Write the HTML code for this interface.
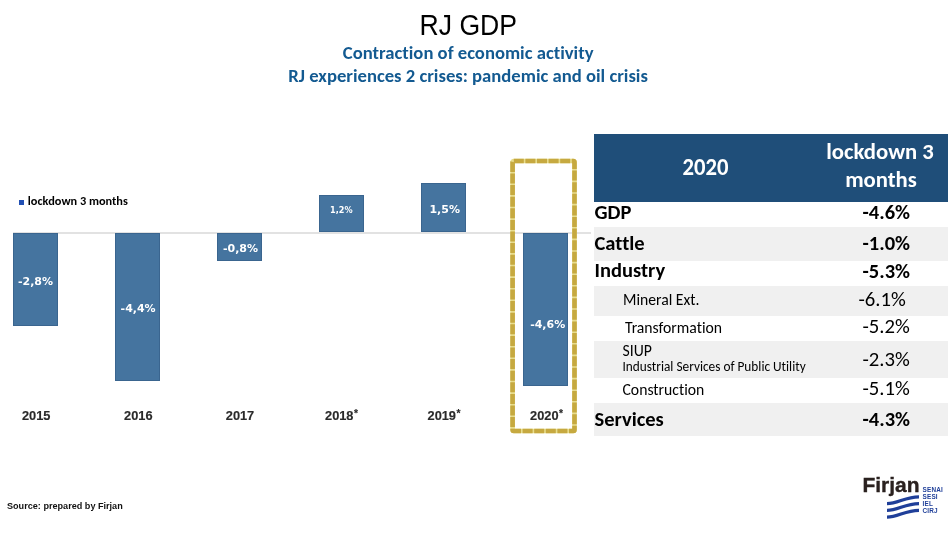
<!DOCTYPE html>
<html><head><meta charset="utf-8"><title>RJ GDP</title>
<style>
html,body{margin:0;padding:0;background:#fff;}
body{width:948px;height:543px;position:relative;overflow:hidden;}
.t{position:absolute;white-space:nowrap;font-variant-ligatures:none;font-feature-settings:'liga' 0,'clig' 0,'calt' 0,'dlig' 0;}
.r{position:absolute;}
sup{font-size:80%;vertical-align:0;position:relative;top:-0.3em;margin-left:0.5px;}
</style></head><body>
<div class="t" style="left:168.30px;width:600px;text-align:center;top:12.98px;font-weight:normal;font-size:26.6px;line-height:26.6px;font-family:'Liberation Sans', Arial, sans-serif;color:#000;transform:scaleY(1.075);transform-origin:50% 85%;">RJ GDP</div>
<div class="t" style="left:168.20px;width:600px;text-align:center;top:43.99px;font-weight:bold;font-size:18.67px;line-height:18.67px;font-family:Carlito, Calibri, 'Liberation Sans', sans-serif;color:#135a91;">Contraction of economic activity</div>
<div class="t" style="left:168.10px;width:600px;text-align:center;top:66.89px;font-weight:bold;font-size:18.67px;line-height:18.67px;font-family:Carlito, Calibri, 'Liberation Sans', sans-serif;color:#135a91;">RJ experiences 2 crises: pandemic and oil crisis</div>
<div class="r" style="left:13px;top:232px;width:578px;height:2px;background:#e2e2e2;"></div>
<div class="r" style="left:13px;top:233px;width:45px;height:93px;background:#45749f;box-shadow:inset 0 0 0 1px rgba(45,85,125,0.45);"></div>
<div class="r" style="left:115px;top:233px;width:45px;height:148px;background:#45749f;box-shadow:inset 0 0 0 1px rgba(45,85,125,0.45);"></div>
<div class="r" style="left:217px;top:233px;width:45px;height:28px;background:#45749f;box-shadow:inset 0 0 0 1px rgba(45,85,125,0.45);"></div>
<div class="r" style="left:319px;top:195px;width:45px;height:37px;background:#45749f;box-shadow:inset 0 0 0 1px rgba(45,85,125,0.45);"></div>
<div class="r" style="left:421px;top:183px;width:45px;height:49px;background:#45749f;box-shadow:inset 0 0 0 1px rgba(45,85,125,0.45);"></div>
<div class="r" style="left:523px;top:233px;width:45px;height:153px;background:#45749f;box-shadow:inset 0 0 0 1px rgba(45,85,125,0.45);"></div>
<div class="t" style="left:-264.50px;width:600px;text-align:center;top:276.19px;font-weight:bold;font-size:11.0px;line-height:11.0px;font-family:'DejaVu Sans', 'Liberation Sans', sans-serif;color:#ffffff;">-2,8%</div>
<div class="t" style="left:-161.90px;width:600px;text-align:center;top:302.89px;font-weight:bold;font-size:11.0px;line-height:11.0px;font-family:'DejaVu Sans', 'Liberation Sans', sans-serif;color:#ffffff;">-4,4%</div>
<div class="t" style="left:-59.50px;width:600px;text-align:center;top:243.19px;font-weight:bold;font-size:11.0px;line-height:11.0px;font-family:'DejaVu Sans', 'Liberation Sans', sans-serif;color:#ffffff;">-0,8%</div>
<div class="t" style="left:41.30px;width:600px;text-align:center;top:206.45px;font-weight:bold;font-size:8.1px;line-height:8.1px;font-family:'DejaVu Sans', 'Liberation Sans', sans-serif;color:#ffffff;">1,2%</div>
<div class="t" style="left:144.70px;width:600px;text-align:center;top:203.69px;font-weight:bold;font-size:11.0px;line-height:11.0px;font-family:'DejaVu Sans', 'Liberation Sans', sans-serif;color:#ffffff;">1,5%</div>
<div class="t" style="left:247.70px;width:600px;text-align:center;top:319.19px;font-weight:bold;font-size:11.0px;line-height:11.0px;font-family:'DejaVu Sans', 'Liberation Sans', sans-serif;color:#ffffff;">-4,6%</div>
<div class="t" style="left:-263.80px;width:600px;text-align:center;top:409.96px;font-weight:bold;font-size:12.8px;line-height:12.8px;font-family:'Liberation Sans', Arial, sans-serif;color:#2a2a2a;-webkit-text-stroke:0.15px #2a2a2a;">2015</div>
<div class="t" style="left:-161.70px;width:600px;text-align:center;top:409.96px;font-weight:bold;font-size:12.8px;line-height:12.8px;font-family:'Liberation Sans', Arial, sans-serif;color:#2a2a2a;-webkit-text-stroke:0.15px #2a2a2a;">2016</div>
<div class="t" style="left:-60.00px;width:600px;text-align:center;top:409.96px;font-weight:bold;font-size:12.8px;line-height:12.8px;font-family:'Liberation Sans', Arial, sans-serif;color:#2a2a2a;-webkit-text-stroke:0.15px #2a2a2a;">2017</div>
<div class="t" style="left:41.50px;width:600px;text-align:center;top:409.96px;font-weight:bold;font-size:12.8px;line-height:12.8px;font-family:'Liberation Sans', Arial, sans-serif;color:#2a2a2a;-webkit-text-stroke:0.15px #2a2a2a;">2018<sup>*</sup></div>
<div class="t" style="left:144.00px;width:600px;text-align:center;top:409.96px;font-weight:bold;font-size:12.8px;line-height:12.8px;font-family:'Liberation Sans', Arial, sans-serif;color:#2a2a2a;-webkit-text-stroke:0.15px #2a2a2a;">2019<sup>*</sup></div>
<div class="t" style="left:246.60px;width:600px;text-align:center;top:409.96px;font-weight:bold;font-size:12.8px;line-height:12.8px;font-family:'Liberation Sans', Arial, sans-serif;color:#2a2a2a;-webkit-text-stroke:0.15px #2a2a2a;">2020<sup>*</sup></div>
<svg class="r" style="left:0;top:0" width="948" height="543"><rect x="512.6" y="161" width="61.9" height="270" rx="1.2" fill="none" stroke="#e8dd8c" stroke-width="4.6"/><rect x="512.6" y="161" width="61.9" height="270" rx="1.2" fill="none" stroke="#c6a940" stroke-width="4.6" stroke-dasharray="10 1.6"/></svg>
<div class="r" style="left:19px;top:200px;width:5px;height:5px;background:#2250b4;"></div>
<div class="t" style="left:27.80px;top:195.25px;font-weight:bold;font-size:12.3px;line-height:12.3px;font-family:Carlito, Calibri, 'Liberation Sans', sans-serif;color:#000;">lockdown 3 months</div>
<div class="r" style="left:594px;top:134px;width:354px;height:68px;background:#1f4e79;"></div>
<div class="t" style="left:405.60px;width:600px;text-align:center;top:155.50px;font-weight:bold;font-size:22.7px;line-height:22.7px;font-family:Carlito, Calibri, 'Liberation Sans', sans-serif;color:#fff;transform:scaleY(1.035);transform-origin:50% 84%;">2020</div>
<div class="t" style="left:580.00px;width:600px;text-align:center;top:139.80px;font-weight:bold;font-size:22.7px;line-height:22.7px;font-family:Carlito, Calibri, 'Liberation Sans', sans-serif;color:#fff;">lockdown 3</div>
<div class="t" style="left:581.00px;width:600px;text-align:center;top:167.50px;font-weight:bold;font-size:22.7px;line-height:22.7px;font-family:Carlito, Calibri, 'Liberation Sans', sans-serif;color:#fff;">months</div>
<div class="r" style="left:594px;top:227px;width:354px;height:34px;background:#f0f0f0;"></div>
<div class="r" style="left:594px;top:286px;width:354px;height:30px;background:#f0f0f0;"></div>
<div class="r" style="left:594px;top:341px;width:354px;height:37px;background:#f0f0f0;"></div>
<div class="r" style="left:594px;top:403px;width:354px;height:33px;background:#f0f0f0;"></div>
<div class="t" style="left:594.50px;top:201.75px;font-weight:bold;font-size:20.5px;line-height:20.5px;font-family:Carlito, Calibri, 'Liberation Sans', sans-serif;color:#000;">GDP</div>
<div class="t" style="left:862.50px;top:202.25px;font-weight:bold;font-size:20.5px;line-height:20.5px;font-family:Carlito, Calibri, 'Liberation Sans', sans-serif;color:#000;">-4.6%</div>
<div class="t" style="left:594.50px;top:233.25px;font-weight:bold;font-size:20.5px;line-height:20.5px;font-family:Carlito, Calibri, 'Liberation Sans', sans-serif;color:#000;">Cattle</div>
<div class="t" style="left:862.50px;top:233.05px;font-weight:bold;font-size:20.5px;line-height:20.5px;font-family:Carlito, Calibri, 'Liberation Sans', sans-serif;color:#000;">-1.0%</div>
<div class="t" style="left:594.50px;top:260.45px;font-weight:bold;font-size:20.5px;line-height:20.5px;font-family:Carlito, Calibri, 'Liberation Sans', sans-serif;color:#000;">Industry</div>
<div class="t" style="left:862.50px;top:260.95px;font-weight:bold;font-size:20.5px;line-height:20.5px;font-family:Carlito, Calibri, 'Liberation Sans', sans-serif;color:#000;">-5.3%</div>
<div class="t" style="left:623.00px;top:292.39px;font-weight:normal;font-size:15.7px;line-height:15.7px;font-family:Carlito, Calibri, 'Liberation Sans', sans-serif;color:#000;">Mineral Ext.</div>
<div class="t" style="left:858.50px;top:288.58px;font-weight:normal;font-size:20.7px;line-height:20.7px;font-family:Carlito, Calibri, 'Liberation Sans', sans-serif;color:#000;">-6.1%</div>
<div class="t" style="left:625.00px;top:319.99px;font-weight:normal;font-size:15.7px;line-height:15.7px;font-family:Carlito, Calibri, 'Liberation Sans', sans-serif;color:#000;">Transformation</div>
<div class="t" style="left:862.50px;top:315.58px;font-weight:normal;font-size:20.7px;line-height:20.7px;font-family:Carlito, Calibri, 'Liberation Sans', sans-serif;color:#000;">-5.2%</div>
<div class="t" style="left:622.50px;top:381.69px;font-weight:normal;font-size:15.7px;line-height:15.7px;font-family:Carlito, Calibri, 'Liberation Sans', sans-serif;color:#000;">Construction</div>
<div class="t" style="left:862.50px;top:378.38px;font-weight:normal;font-size:20.7px;line-height:20.7px;font-family:Carlito, Calibri, 'Liberation Sans', sans-serif;color:#000;">-5.1%</div>
<div class="t" style="left:594.50px;top:409.25px;font-weight:bold;font-size:20.5px;line-height:20.5px;font-family:Carlito, Calibri, 'Liberation Sans', sans-serif;color:#000;">Services</div>
<div class="t" style="left:862.50px;top:409.05px;font-weight:bold;font-size:20.5px;line-height:20.5px;font-family:Carlito, Calibri, 'Liberation Sans', sans-serif;color:#000;">-4.3%</div>
<div class="t" style="left:622.50px;top:343.39px;font-weight:normal;font-size:15.7px;line-height:15.7px;font-family:Carlito, Calibri, 'Liberation Sans', sans-serif;color:#000;">SIUP</div>
<div class="t" style="left:622.50px;top:359.81px;font-weight:normal;font-size:13.3px;line-height:13.3px;font-family:Carlito, Calibri, 'Liberation Sans', sans-serif;color:#000;">Industrial Services of Public Utility</div>
<div class="t" style="left:862.50px;top:348.78px;font-weight:normal;font-size:20.7px;line-height:20.7px;font-family:Carlito, Calibri, 'Liberation Sans', sans-serif;color:#000;">-2.3%</div>
<div class="t" style="left:7.00px;top:500.97px;font-weight:bold;font-size:9.6px;line-height:9.6px;font-family:'Liberation Sans', Arial, sans-serif;color:#111;transform:scaleX(0.948);transform-origin:0 0;">Source: prepared by Firjan</div>
<div class="t" style="left:862.40px;top:473.92px;font-weight:bold;font-size:21.0px;line-height:21.0px;font-family:'Liberation Sans', Arial, sans-serif;color:#2a211f;letter-spacing:0;-webkit-text-stroke:0.35px #2a211f;">Firjan</div>
<div class="t" style="left:922.60px;top:486.98px;font-weight:bold;font-size:6.4px;line-height:6.4px;font-family:'Liberation Sans', Arial, sans-serif;color:#1f3f99;letter-spacing:0.15px;">SENAI</div>
<div class="t" style="left:922.60px;top:493.93px;font-weight:bold;font-size:6.4px;line-height:6.4px;font-family:'Liberation Sans', Arial, sans-serif;color:#1f3f99;letter-spacing:0.15px;">SESI</div>
<div class="t" style="left:922.60px;top:500.88px;font-weight:bold;font-size:6.4px;line-height:6.4px;font-family:'Liberation Sans', Arial, sans-serif;color:#1f3f99;letter-spacing:0.15px;">IEL</div>
<div class="t" style="left:922.60px;top:507.83px;font-weight:bold;font-size:6.4px;line-height:6.4px;font-family:'Liberation Sans', Arial, sans-serif;color:#1f3f99;letter-spacing:0.15px;">CIRJ</div>
<svg class="r" style="left:0;top:0" width="948" height="543"><path d="M887 503.6 C898 503.6 905 496.8 919 496.8" stroke="#1f3f99" stroke-width="3.2" fill="none"/><path d="M887 510.40000000000003 C898 510.40000000000003 905 503.6 919 503.6" stroke="#1f3f99" stroke-width="3.2" fill="none"/><path d="M887 517.2 C898 517.2 905 510.40000000000003 919 510.40000000000003" stroke="#1f3f99" stroke-width="3.2" fill="none"/></svg>
</body></html>
